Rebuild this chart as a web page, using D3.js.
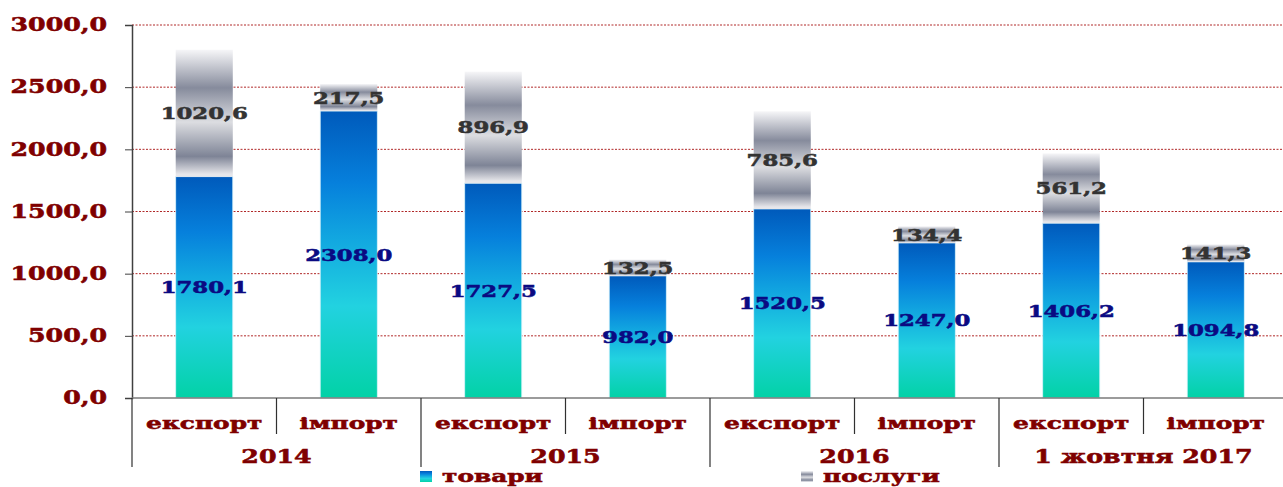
<!DOCTYPE html>
<html>
<head>
<meta charset="utf-8">
<script src="https://cdn.jsdelivr.net/npm/d3@7"></script>
<style>
  body { margin: 0; background: #fff; }
  svg text { font-family: "DejaVu Serif", serif; font-weight: bold; }
</style>
</head>
<body>
<svg id="chart" width="1283" height="487"></svg>
<script>
// DATA
const groups = ['2014', '2015', '2016', '1 жовтня 2017'];
const flows = ['експорт', 'імпорт'];
const goods = [1780.1, 2308.0, 1727.5, 982.0, 1520.5, 1247.0, 1406.2, 1094.8];
const services = [1020.6, 217.5, 896.9, 132.5, 785.6, 134.4, 561.2, 141.3];
const yTicks = [0, 500, 1000, 1500, 2000, 2500, 3000];
const seriesNames = ['товари', 'послуги'];

const fmt = v => d3.format('.1f')(v).replace('.', ',');

const svg = d3.select('#chart');
const plotLeft = 132, plotRight = 1288, plotTop = 25, plotBottom = 398;

const cats = d3.range(groups.length * flows.length);
const x = d3.scaleBand().domain(cats).range([plotLeft, plotRight]).paddingInner(0.605).paddingOuter(0.3025);
const xGroup = d3.scaleBand().domain(groups).range([plotLeft, plotRight]);
const y = d3.scaleLinear().domain([0, 3000]).range([plotBottom, plotTop]);

// Gradients
const defs = svg.append('defs');
function grad(id, stops) {
  const g = defs.append('linearGradient').attr('id', id)
    .attr('x1', 0).attr('y1', 0).attr('x2', 0).attr('y2', 1);
  stops.forEach(s => g.append('stop').attr('offset', s[0]).attr('stop-color', s[1]));
}
grad('goodsGrad', [[0, '#005abb'], [0.25, '#0680dc'], [0.45, '#12a8e0'], [0.68, '#22d2e0'], [1, '#02d2a6']]);
grad('servGrad', [[0, '#f6f6f8'], [0.3, '#868b9c'], [0.57, '#dcdde1'], [0.84, '#7e8496'], [0.98, '#e6e6ea'], [1, '#e6e6ea']]);

// Gridlines
svg.append('g').selectAll('line').data(yTicks.filter(d => d > 0)).join('line')
  .attr('x1', plotLeft).attr('x2', 1283)
  .attr('y1', d => y(d)).attr('y2', d => y(d))
  .attr('stroke', '#b02828').attr('stroke-width', 1).attr('stroke-dasharray', '2,1.5');

// Bars: goods
svg.append('g').selectAll('rect').data(goods).join('rect')
  .attr('x', (d, i) => x(i)).attr('width', x.bandwidth())
  .attr('y', d => y(d)).attr('height', d => y(0) - y(d))
  .attr('fill', 'url(#goodsGrad)')
  .attr('stroke', '#d8f2fa').attr('stroke-width', 0.8);

// Bars: services
svg.append('g').selectAll('rect').data(services).join('rect')
  .attr('x', (d, i) => x(i)).attr('width', x.bandwidth())
  .attr('y', (d, i) => y(goods[i] + d)).attr('height', (d, i) => y(goods[i]) - y(goods[i] + d))
  .attr('fill', 'url(#servGrad)');

// Y axis
const yAxis = svg.append('g').attr('transform', `translate(${plotLeft},0)`)
  .call(d3.axisLeft(y).tickValues(yTicks).tickSize(7).tickFormat(fmt).tickPadding(18));
yAxis.select('.domain').attr('stroke', '#404040').attr('stroke-width', 1.5);
yAxis.selectAll('.tick line').attr('stroke', '#404040');
yAxis.attr('font-family', null).attr('font-size', null);
yAxis.selectAll('.tick text').attr('fill', '#7f0000').style('font-size', '18px')
  .attr('data-k', 1.40);

// X axis base line
svg.append('line').attr('x1', plotLeft).attr('x2', 1283).attr('y1', plotBottom).attr('y2', plotBottom)
  .attr('stroke', '#7a7a7a').attr('stroke-width', 1.5);

// Category separators
const bounds = d3.range(groups.length * flows.length + 1);
const step = x.step();
svg.append('g').selectAll('line').data(bounds).join('line')
  .attr('x1', i => plotLeft + i * step).attr('x2', i => plotLeft + i * step)
  .attr('y1', plotBottom).attr('y2', i => i % 2 === 0 ? 467 : 434)
  .attr('stroke', '#303030').attr('stroke-width', 1.2);

// Category labels
svg.append('g').selectAll('text').data(cats).join('text')
  .attr('data-k', 1.46)
  .attr('x', i => x(i) + x.bandwidth() / 2).attr('y', 429)
  .attr('text-anchor', 'middle').attr('fill', '#7f0000').style('font-size', '17px')
  .text(i => flows[i % 2]);

svg.append('g').selectAll('text').data(groups).join('text')
  .attr('data-k', 1.33)
  .attr('x', d => xGroup(d) + xGroup.bandwidth() / 2).attr('y', 463)
  .attr('text-anchor', 'middle').attr('fill', '#7f0000').style('font-size', '19px')
  .text(d => d);

// Value labels
svg.append('g').selectAll('text').data(goods).join('text')
  .attr('data-k', 1.34)
  .attr('x', (d, i) => x(i) + x.bandwidth() / 2)
  .attr('y', d => (y(d) + y(0)) / 2 + 6)
  .attr('text-anchor', 'middle').attr('fill', '#0a0a82').style('font-size', '17px')
  .text(fmt);

svg.append('g').selectAll('text').data(services).join('text')
  .attr('data-k', 1.34)
  .attr('x', (d, i) => x(i) + x.bandwidth() / 2)
  .attr('y', (d, i) => (y(goods[i]) + y(goods[i] + d)) / 2 + 6)
  .attr('text-anchor', 'middle').attr('fill', '#333333').style('font-size', '17px')
  .text(fmt);

// Legend
const legendX = [420, 801];
const legend = svg.append('g').selectAll('g').data(seriesNames).join('g')
  .attr('transform', (d, i) => `translate(${legendX[i]},471)`);
legend.append('rect').attr('width', 12).attr('height', 11)
  .attr('fill', (d, i) => i === 0 ? 'url(#goodsGrad)' : 'url(#servGrad)');
legend.append('text').attr('data-k', 1.46).attr('x', 22).attr('y', 11)
  .attr('fill', '#7f0000').style('font-size', '17px').text(d => d);

// widen and thicken the serif glyphs to look like the original font
svg.selectAll('text[data-k]').each(function () {
  const t = d3.select(this);
  const w = this.getComputedTextLength();
  t.attr('textLength', w * +t.attr('data-k')).attr('lengthAdjust', 'spacingAndGlyphs')
    .attr('stroke', t.attr('fill')).attr('stroke-width', 0.55);
});
</script>
</body>
</html>
